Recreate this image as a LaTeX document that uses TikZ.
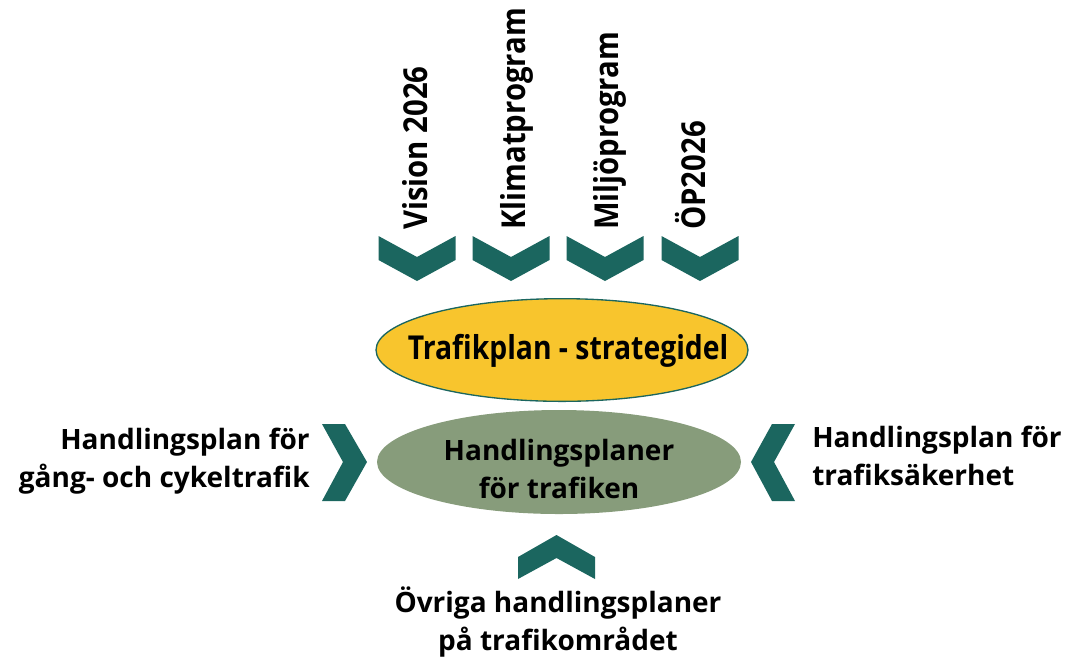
\documentclass[tikz,border=0pt]{standalone}
\usepackage{fontspec}
\setmainfont{Open Sans}
\newfontfamily\topfont{Open Sans}[FakeStretch=0.89]
\newfontfamily\strategyfont{Open Sans}[FakeStretch=0.86]
\newfontfamily\sidefont{Open Sans}[FakeStretch=1.0]
\usetikzlibrary{shapes.geometric}
\definecolor{chevteal}{HTML}{1B665F}
\definecolor{planyellow}{HTML}{F8C52D}
\definecolor{plangreen}{HTML}{879C7B}
\begin{document}
\begin{tikzpicture}
[
    x=0.75pt, y=-0.75pt,
    chev/.style={fill=chevteal},
    toplabel/.style={rotate=90, anchor=base west, inner sep=0pt,
        font=\topfont\bfseries\fontsize{24.7}{29}\selectfont},
    sidelabel/.style={inner sep=0pt, font=\sidefont\bfseries\fontsize{21}{28.5}\selectfont},
    plan/.style={ellipse, inner sep=0pt}
]
    \useasboundingbox (0,0) rectangle (1066,662);

    % input documents on top
    \foreach \cx/\bx/\txt [count=\i] in {417/427/Vision 2026, 511/525/Klimatprogram,
                                          605/618/Miljöprogram, 700/705/ÖP2026} {
        \node [toplabel] (in\i) at (\bx,230) {\txt};
        \fill [chev] (\cx-38.5,236) -- (\cx,257) -- (\cx+38.5,236) -- (\cx+38.5,260)
                     -- (\cx,281) -- (\cx-38.5,260) -- cycle;
    }

    % the two plans
    \node [plan, fill=planyellow, draw=chevteal, line width=1pt,
           minimum width=279pt, minimum height=77pt,
           label={[xshift=4.5pt, yshift=-1pt, font=\strategyfont\bfseries\fontsize{24.7}{29}\selectfont]center:Trafikplan - strategidel}]
           (strategy) at (562,350) {};
    \node [plan, fill=plangreen, minimum width=273pt, minimum height=78pt,
           label={[align=center, sidelabel, yshift=-5pt]center:Handlingsplaner\\för trafiken}]
           (actions) at (559,462) {};

    % side and bottom inputs
    \fill [chev] (322,424) -- (345,424) -- (367,462) -- (345,501) -- (322,501)
                 -- (343,462) -- cycle;
    \fill [chev] (795,424) -- (772,424) -- (751,462) -- (772,501) -- (795,501)
                 -- (774,462) -- cycle;
    \fill [chev] (518,557) -- (556.5,535) -- (595,557) -- (595,579) -- (556.5,558)
                 -- (518,579) -- cycle;

    \node [sidelabel, align=right, anchor=base east] (walk) at (310,487)
        {Handlingsplan för\\gång- och cykeltrafik};
    \node [sidelabel, align=left, anchor=base west] (safety) at (812,485)
        {Handlingsplan för\\trafiksäkerhet};
    \node [sidelabel, align=center, anchor=base] (other) at (558,650)
        {Övriga handlingsplaner\\på trafikområdet};
\end{tikzpicture}
\end{document}
